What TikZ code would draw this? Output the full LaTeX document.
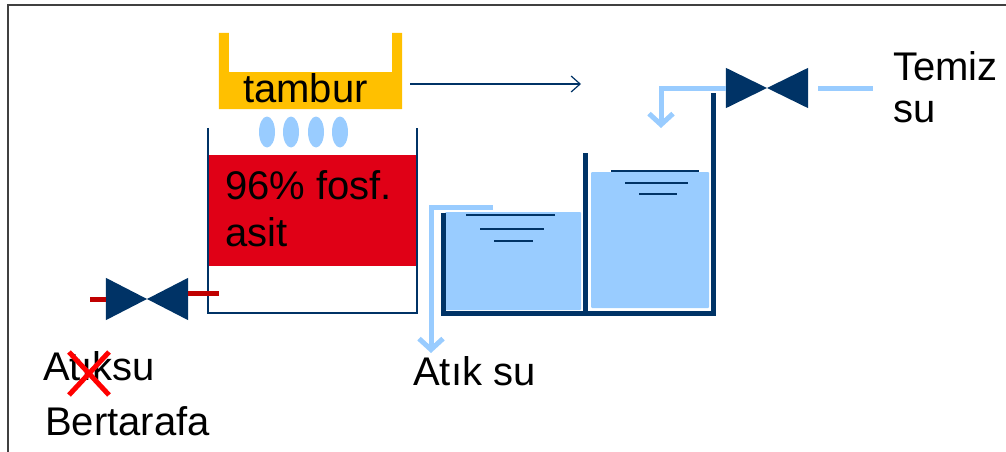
\documentclass[tikz,border=0pt]{standalone}
\usepackage{fontspec}
\setmainfont{Liberation Sans}
\usetikzlibrary{arrows.meta}

\definecolor{navy}{HTML}{003366}
\definecolor{water}{HTML}{99CCFF}
\definecolor{acid}{HTML}{E00016}
\definecolor{drum}{HTML}{FFC000}
\definecolor{pipered}{HTML}{C00000}

\begin{document}
\begin{tikzpicture}[x=1pt,y=-1pt,
  txt/.style={anchor=base west,inner sep=0pt,font=\fontsize{40}{40}\selectfont},
  wall/.style={draw=navy,line width=5pt},
  pipe/.style={draw=water,line width=5pt},
  level/.style={draw=navy,line width=2pt},
  valvebox/.style={inner sep=0pt,minimum width=82pt,minimum height=42pt}]
\useasboundingbox (0,0) rectangle (1006,452);
\draw[line width=2pt,draw=black!75] (8,452) -- (8,5) -- (1006,5);

% tambur
\node[inner sep=0pt,minimum width=183pt,minimum height=76pt] (0) at (310.5,71) {};
\fill[drum] (0.north west) -- ++(10,0) -- (229,72) -- (392,72) -- (392,33) -- (0.north east) -- (0.south east) -- (0.south west) -- cycle;
\node[txt] (1) at (243,102) {tambur};
\foreach \x in {267,291,316,340}
  \fill[water] (\x,132) ellipse [x radius=8, y radius=15.5];

% fosforik asit tanki
\node[inner sep=0pt,minimum width=209pt,minimum height=185pt] (2) at (312.5,220.5) {};
\fill[acid] (208,155) rectangle (417,266);
\draw[navy,line width=1.5pt] (2.north west) -- (2.south west) -- (2.south east) -- (2.north east);
\node[txt] (3) at (225,199) {96\% fosf.};
\node[txt] (4) at (225,246) {asit};

\draw[navy,line width=1.2pt,-{Straight Barb[length=9pt,width=16pt]}] ([xshift=8pt,yshift=-13pt]0.east) -- (581,84);

% alt vana
\node[valvebox] (5) at (147,299) {};
\fill[navy] (5.north west) -- (5.south west) -- (5.north east) -- (5.south east) -- cycle;
\draw[pipered,line width=5pt] (5.west) -- (90,299);
\draw[pipered,line width=5pt] ([yshift=6pt]5.east) -- (219,293);

\node[txt] (6) at (43,380) {Atıksu};
\node[txt] (7) at (45,435) {Bertarafa};
\draw[red,line width=5pt] (69,352) -- (109,395) (109,352) -- (69,395);

% su tanklari
\fill[water,rounded corners=1pt] (445,212) rectangle (581,310);
\fill[water,rounded corners=1pt] (591,172) rectangle (709,308);
\draw[level] (466,215) -- (555,215) (480,229) -- (544,229) (494,241) -- (533,241);
\draw[level] (611,171) -- (699,171) (625,183) -- (688,183) (639,194) -- (677,194);
\draw[wall] (443,213) -- (443,313) -- (713,313) -- (713,93);
\draw[wall] (585,153) -- (585,313);

% temiz su vanasi
\node[valvebox,minimum height=40pt] (8) at (767,88) {};
\fill[navy] (8.north west) -- (8.south west) -- (8.north east) -- (8.south east) -- cycle;
\draw[pipe] ([xshift=10pt]8.east) -- (873,88);
\draw[pipe,-{Straight Barb[length=11pt,width=24pt]}] (8.west) -- (661,88) -- (661,128);
\node[txt] (9) at (893,80) {Temiz};
\node[txt] (10) at (893,122) {su};

% tasma
\draw[pipe,-{Straight Barb[length=11pt,width=24pt]}] (493,207) -- (431,207) -- (431,353);
\node[txt] (11) at (413,385) {Atık su};
\end{tikzpicture}
\end{document}
